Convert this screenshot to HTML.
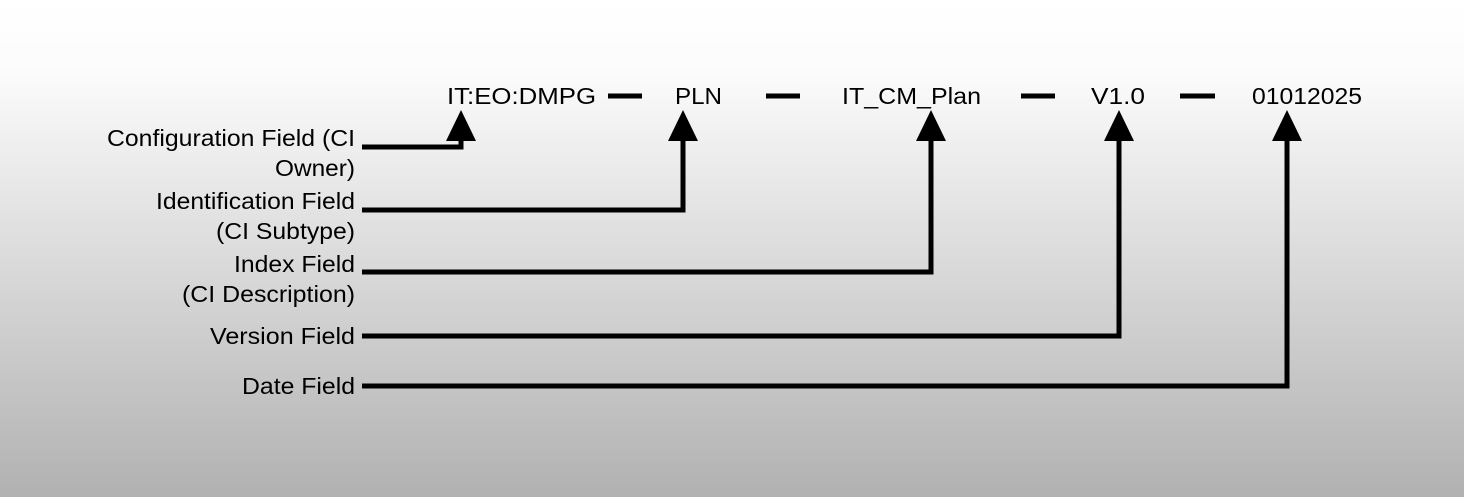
<!DOCTYPE html>
<html><head><style>
html,body{margin:0;padding:0}
body{width:1464px;height:497px;overflow:hidden;background:linear-gradient(#ffffff 0%,#fbfbfb 15%,#b1b1b1 100%)}
svg text{font-family:"Liberation Sans",sans-serif;font-size:23px;fill:#000}
</style></head><body>
<svg width="1464" height="497" xmlns="http://www.w3.org/2000/svg">
<g lengthAdjust="spacingAndGlyphs">
<text x="447" y="104" textLength="149" lengthAdjust="spacingAndGlyphs">IT:EO:DMPG</text>
<text x="675" y="104" textLength="47" lengthAdjust="spacingAndGlyphs">PLN</text>
<text x="842" y="104" textLength="139" lengthAdjust="spacingAndGlyphs">IT_CM_Plan</text>
<text x="1091" y="104" textLength="54" lengthAdjust="spacingAndGlyphs">V1.0</text>
<text x="1252" y="104" textLength="110" lengthAdjust="spacingAndGlyphs">01012025</text>
</g>
<g stroke="#000" stroke-width="5">
<line x1="608" y1="96" x2="642" y2="96"/>
<line x1="766" y1="96" x2="800" y2="96"/>
<line x1="1021" y1="96" x2="1055" y2="96"/>
<line x1="1180" y1="96" x2="1215" y2="96"/>
</g>
<g>
<text x="107" y="146" textLength="248" lengthAdjust="spacingAndGlyphs">Configuration Field (CI</text>
<text x="275" y="176" textLength="80" lengthAdjust="spacingAndGlyphs">Owner)</text>
<text x="156" y="209" textLength="199" lengthAdjust="spacingAndGlyphs">Identification Field</text>
<text x="216" y="239" textLength="139" lengthAdjust="spacingAndGlyphs">(CI Subtype)</text>
<text x="234" y="272" textLength="121" lengthAdjust="spacingAndGlyphs">Index Field</text>
<text x="182" y="302" textLength="173" lengthAdjust="spacingAndGlyphs">(CI Description)</text>
<text x="210" y="344" textLength="145" lengthAdjust="spacingAndGlyphs">Version Field</text>
<text x="242" y="394" textLength="113" lengthAdjust="spacingAndGlyphs">Date Field</text>
</g>
<g stroke="#000" stroke-width="5" fill="none" stroke-linejoin="miter">
<polyline points="362,147 461,147 461,135"/>
<polyline points="362,210 683,210 683,135"/>
<polyline points="362,272 931,272 931,135"/>
<polyline points="362,336 1119,336 1119,135"/>
<polyline points="362,386 1287,386 1287,135"/>
</g>
<g fill="#000">
<polygon points="461,110 446,141 476,141"/>
<polygon points="683,110 668,141 698,141"/>
<polygon points="931,110 916,141 946,141"/>
<polygon points="1119,110 1104,141 1134,141"/>
<polygon points="1287,110 1272,141 1302,141"/>
</g>
</svg>
</body></html>
